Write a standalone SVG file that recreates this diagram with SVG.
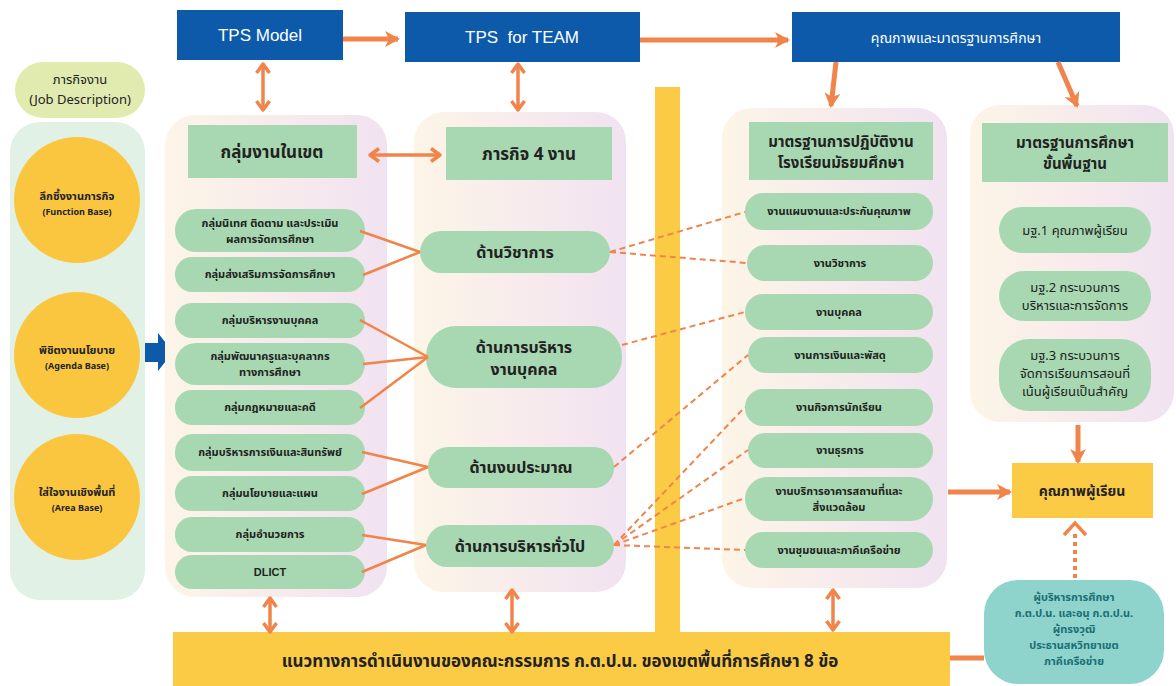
<svg xmlns="http://www.w3.org/2000/svg" width="1176" height="686" viewBox="0 0 1176 686">
<style>
text{font-family:"Noto Sans Thai","Noto Sans","DejaVu Sans","Liberation Sans",sans-serif;text-anchor:middle;fill:#222;}
.blue{fill:#0D5AAB;}
.bt{fill:#fff;font-size:17px;}
.grp{fill:url(#gbg);}
.hdr{fill:#A8D8B1;}
.pill{fill:#A8D8B1;}
.h{font-size:17px;font-weight:bold;}
.s{font-size:11px;font-weight:bold;}
.m{font-size:16px;font-weight:bold;}
.r{font-size:13px;}
.circ{fill:#FBC63F;}
.yel{fill:#FBCB46;}
.arr{stroke:#F0844A;stroke-width:5;fill:none;}
.dbl{stroke:#F0844A;stroke-width:3.5;fill:none;}
.ln{stroke:#F0844A;stroke-width:2.5;fill:none;}
.dash{stroke:#F0844A;stroke-width:2;fill:none;stroke-dasharray:6 4;}
.dot{stroke:#F0844A;stroke-width:4;fill:none;stroke-dasharray:4 4;}
.tl{fill:#1B6F73;font-size:11px;font-weight:bold;}
</style>
<defs>
<linearGradient id="gbg" x1="0" y1="0" x2="1" y2="0">
<stop offset="0" stop-color="#FDF5E7"/>
<stop offset="1" stop-color="#F1E2F1"/>
</linearGradient>
<marker id="ah" markerUnits="userSpaceOnUse" markerWidth="18" markerHeight="18" refX="14" refY="9" orient="auto">
<path d="M1,1 L16,9 L1,17 L5,9 z" fill="#F0844A"/>
</marker>
<marker id="ch" markerUnits="userSpaceOnUse" markerWidth="16" markerHeight="16" refX="12" refY="8" orient="auto-start-reverse">
<path d="M3,1.5 L12,8 L3,14.5" fill="none" stroke="#F0844A" stroke-width="3.5" stroke-linejoin="round"/>
</marker>
</defs>
<rect width="1176" height="686" fill="#fff"/>

<g id="col-left">
<rect x="10" y="122" width="135" height="478" rx="30" fill="#E1F1E5"/>
</g>
<rect x="655" y="87" width="25" height="550" class="yel"/>

<g id="job">
<rect x="15" y="62" width="130" height="56" rx="28" fill="#E1EBB0"/>
<text x="80" y="84" class="r">ภารกิจงาน</text>
<text x="80" y="104" class="r">(Job Description)</text>
</g>
<g id="c1">
<circle cx="77" cy="200" r="63" class="circ"/>
<text x="77" y="200" class="s">ลึกซึ้งงานภารกิจ</text>
<text x="77" y="215" style="font-size:9px;font-weight:bold">(Function Base)</text>
</g>
<g id="c2">
<circle cx="77" cy="355" r="63" class="circ"/>
<text x="77" y="354" class="s">พิชิตงานนโยบาย</text>
<text x="77" y="369" style="font-size:9px;font-weight:bold">(Agenda Base)</text>
</g>
<g id="c3">
<circle cx="77" cy="497" r="63" class="circ"/>
<text x="77" y="496" class="s">ใส่ใจงานเชิงพื้นที่</text>
<text x="77" y="511" style="font-size:9px;font-weight:bold">(Area Base)</text>
</g>
<g id="bluearrow">
<polygon points="145,343 158,343 158,333 173,352 158,371 158,362 145,362" class="blue"/>
</g>

<g id="tps-model">
<rect x="177" y="10" width="166" height="50" class="blue"/>
<text x="260" y="41" class="bt" style="font-family:'Liberation Sans',sans-serif">TPS Model</text>
</g>
<g id="tps-team">
<rect x="405" y="12" width="235" height="50" class="blue"/>
<text x="522" y="43" class="bt" style="font-family:'Liberation Sans',sans-serif;white-space:pre" xml:space="preserve">TPS  for TEAM</text>
</g>
<g id="quality">
<rect x="792" y="12" width="328" height="50" class="blue"/>
<text x="956" y="43" class="bt" style="font-size:14px">คุณภาพและมาตรฐานการศึกษา</text>
</g>

<g id="g1">
<rect x="165" y="115" width="222" height="482" rx="30" class="grp"/>
<rect x="188" y="125" width="169" height="53" class="hdr"/>
<text x="272" y="158" class="h">กลุ่มงานในเขต</text>
</g>
<g id="p1"><rect x="175" y="209" width="190" height="43" rx="21" class="pill"/><text x="270" y="227" class="s">กลุ่มนิเทศ ติดตาม และประเมิน</text><text x="270" y="243" class="s">ผลการจัดการศึกษา</text></g>
<g id="p2"><rect x="175" y="257" width="190" height="35" rx="17" class="pill"/><text x="270" y="278" class="s">กลุ่มส่งเสริมการจัดการศึกษา</text></g>
<g id="p3"><rect x="175" y="303" width="190" height="35" rx="17" class="pill"/><text x="270" y="324" class="s">กลุ่มบริหารงานบุคคล</text></g>
<g id="p4"><rect x="175" y="343" width="190" height="42" rx="21" class="pill"/><text x="270" y="360" class="s">กลุ่มพัฒนาครูและบุคลากร</text><text x="270" y="376" class="s">ทางการศึกษา</text></g>
<g id="p5"><rect x="175" y="390" width="190" height="35" rx="17" class="pill"/><text x="270" y="411" class="s">กลุ่มกฎหมายและคดี</text></g>
<g id="p6"><rect x="175" y="434" width="190" height="37" rx="18" class="pill"/><text x="270" y="456" class="s">กลุ่มบริหารการเงินและสินทรัพย์</text></g>
<g id="p7"><rect x="175" y="476" width="190" height="35" rx="17" class="pill"/><text x="270" y="497" class="s">กลุ่มนโยบายและแผน</text></g>
<g id="p8"><rect x="175" y="517" width="190" height="35" rx="17" class="pill"/><text x="270" y="538" class="s">กลุ่มอำนวยการ</text></g>
<g id="p9"><rect x="175" y="555" width="190" height="34" rx="17" class="pill"/><text x="270" y="576" class="s" style="font-family:'Liberation Sans',sans-serif">DLICT</text></g>

<g id="g2">
<rect x="414" y="112" width="212" height="480" rx="30" class="grp"/>
<rect x="446" y="127" width="166" height="53" class="hdr"/>
<text x="529" y="160" class="h">ภารกิจ 4 งาน</text>
</g>
<g id="m1"><rect x="420" y="231" width="190" height="42" rx="21" class="pill"/><text x="515" y="258" class="m">ด้านวิชาการ</text></g>
<g id="m2"><rect x="426" y="326" width="196" height="62" rx="30" class="pill"/><text x="524" y="353" class="m">ด้านการบริหาร</text><text x="524" y="375" class="m">งานบุคคล</text></g>
<g id="m3"><rect x="428" y="447" width="186" height="41" rx="20" class="pill"/><text x="521" y="473" class="m">ด้านงบประมาณ</text></g>
<g id="m4"><rect x="426" y="525" width="188" height="42" rx="21" class="pill"/><text x="520" y="552" class="m">ด้านการบริหารทั่วไป</text></g>

<g id="g3">
<rect x="722" y="108" width="225" height="480" rx="30" class="grp"/>
<rect x="749" y="122" width="184" height="58" class="hdr"/>
<text x="841" y="147" style="font-size:15px;font-weight:bold">มาตรฐานการปฏิบัติงาน</text>
<text x="841" y="168" style="font-size:15px;font-weight:bold">โรงเรียนมัธยมศึกษา</text>
</g>
<g id="r1"><rect x="745" y="193" width="188" height="37" rx="18" class="pill"/><text x="839" y="215" class="s">งานแผนงานและประกันคุณภาพ</text></g>
<g id="r2"><rect x="747" y="245" width="186" height="36" rx="18" class="pill"/><text x="840" y="267" class="s">งานวิชาการ</text></g>
<g id="r3"><rect x="745" y="294" width="188" height="36" rx="18" class="pill"/><text x="839" y="316" class="s">งานบุคคล</text></g>
<g id="r4"><rect x="748" y="337" width="185" height="36" rx="18" class="pill"/><text x="840" y="359" class="s">งานการเงินและพัสดุ</text></g>
<g id="r5"><rect x="745" y="389" width="188" height="37" rx="18" class="pill"/><text x="839" y="411" class="s">งานกิจการนักเรียน</text></g>
<g id="r6"><rect x="748" y="433" width="185" height="35" rx="17" class="pill"/><text x="840" y="454" class="s">งานธุรการ</text></g>
<g id="r7"><rect x="745" y="477" width="188" height="44" rx="22" class="pill"/><text x="839" y="495" class="s">งานบริการอาคารสถานที่และ</text><text x="839" y="511" class="s">สิ่งแวดล้อม</text></g>
<g id="r8"><rect x="745" y="532" width="188" height="36" rx="18" class="pill"/><text x="839" y="554" class="s">งานชุมชนและภาคีเครือข่าย</text></g>

<g id="g4">
<rect x="970" y="105" width="204" height="317" rx="30" class="grp"/>
<rect x="982" y="123" width="186" height="59" class="hdr"/>
<text x="1075" y="148" style="font-size:15px;font-weight:bold">มาตรฐานการศึกษา</text>
<text x="1075" y="169" style="font-size:15px;font-weight:bold">ขั้นพื้นฐาน</text>
</g>
<g id="s1"><rect x="999" y="207" width="152" height="46" rx="23" class="pill"/><text x="1075" y="235" class="r">มฐ.1 คุณภาพผู้เรียน</text></g>
<g id="s2"><rect x="999" y="271" width="152" height="50" rx="25" class="pill"/><text x="1075" y="292" class="r">มฐ.2 กระบวนการ</text><text x="1075" y="310" class="r">บริหารและการจัดการ</text></g>
<g id="s3"><rect x="999" y="339" width="152" height="72" rx="30" class="pill"/><text x="1075" y="360" class="r">มฐ.3 กระบวนการ</text><text x="1075" y="378" class="r">จัดการเรียนการสอนที่</text><text x="1075" y="396" class="r">เน้นผู้เรียนเป็นสำคัญ</text></g>

<g id="learner">
<rect x="1012" y="463" width="141" height="55" class="yel"/>
<text x="1082" y="496" style="font-size:14px;font-weight:bold">คุณภาพผู้เรียน</text>
</g>
<g id="admins">
<rect x="984" y="580" width="180" height="104" rx="34" fill="#8FD3CD"/>
<text x="1074" y="601" class="tl">ผู้บริหารการศึกษา</text>
<text x="1074" y="617" class="tl">ก.ต.ป.น. และอนุ ก.ต.ป.น.</text>
<text x="1074" y="633" class="tl">ผู้ทรงวุฒิ</text>
<text x="1074" y="649" class="tl">ประธานสหวิทยาเขต</text>
<text x="1074" y="665" class="tl">ภาคีเครือข่าย</text>
</g>
<g id="bottom">
<rect x="173" y="632" width="777" height="54" class="yel"/>
<text x="560" y="667" class="h">แนวทางการดำเนินงานของคณะกรรมการ ก.ต.ป.น. ของเขตพื้นที่การศึกษา 8 ข้อ</text>
</g>

<g id="connectors">
<line x1="343" y1="39" x2="398" y2="39" class="arr" marker-end="url(#ah)"/>
<line x1="640" y1="40" x2="788" y2="40" class="arr" marker-end="url(#ah)"/>
<line x1="836" y1="62" x2="831" y2="106" class="arr" marker-end="url(#ah)"/>
<line x1="1058" y1="62" x2="1077" y2="106" class="arr" marker-end="url(#ah)"/>
<line x1="263" y1="64" x2="263" y2="110" class="dbl" marker-start="url(#ch)" marker-end="url(#ch)"/>
<line x1="518" y1="64" x2="518" y2="110" class="dbl" marker-start="url(#ch)" marker-end="url(#ch)"/>
<line x1="370" y1="155" x2="440" y2="155" class="dbl" marker-start="url(#ch)" marker-end="url(#ch)"/>
<line x1="270" y1="598" x2="270" y2="632" class="dbl" marker-start="url(#ch)" marker-end="url(#ch)"/>
<line x1="512" y1="590" x2="512" y2="632" class="dbl" marker-start="url(#ch)" marker-end="url(#ch)"/>
<line x1="833" y1="590" x2="833" y2="630" class="dbl" marker-start="url(#ch)" marker-end="url(#ch)"/>
<line x1="1078" y1="425" x2="1078" y2="462" class="arr" marker-end="url(#ah)"/>
<line x1="948" y1="492" x2="1010" y2="492" class="arr" marker-end="url(#ah)"/>
<line x1="950" y1="658" x2="984" y2="658" class="arr"/>
<line x1="1075" y1="578" x2="1075" y2="530" class="dot"/>
<path d="M1064,535 L1075,523 L1086,535" class="dbl"/>
<path d="M360,231 L420,252 M363,275 L420,252" class="ln"/>
<path d="M360,320 L428,357 M363,364 L428,357 M360,408 L428,357" class="ln"/>
<path d="M362,452 L428,467 M362,494 L428,467" class="ln"/>
<path d="M362,535 L426,545 M362,572 L426,545" class="ln"/>
<path d="M610,252 L745,212 M610,252 L747,263" class="dash"/>
<path d="M622,345 L745,312" class="dash"/>
<path d="M614,467 L748,355" class="dash"/>
<path d="M614,545 L745,407 M614,545 L748,450 M614,545 L745,498 M614,545 L745,550" class="dash"/>
</g>
</svg>
